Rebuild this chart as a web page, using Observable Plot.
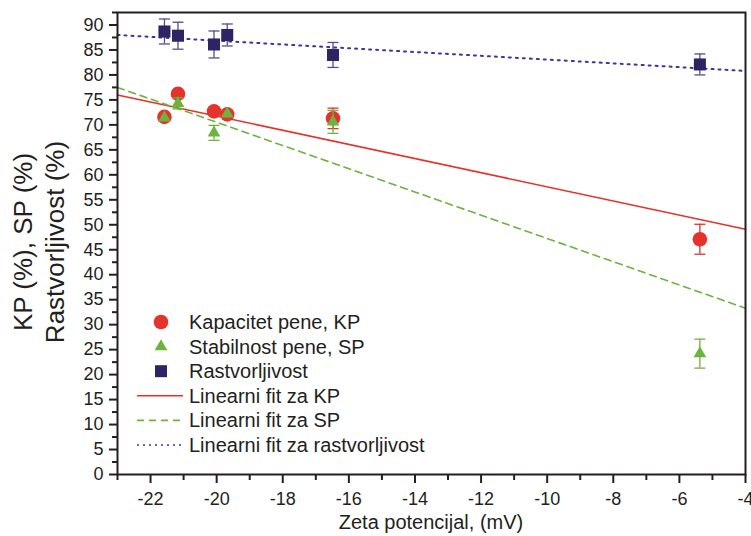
<!DOCTYPE html>
<html>
<head>
<meta charset="utf-8">
<script src="https://cdn.jsdelivr.net/npm/d3@7"></script>
<script src="https://cdn.jsdelivr.net/npm/@observablehq/plot@0.6"></script>
<style>
  html, body { margin: 0; padding: 0; background: #fff; }
  #chart { width: 751px; height: 536px; }
  svg { font-family: "Liberation Sans", Arial, sans-serif; }
</style>
</head>
<body>
<div id="chart"></div>
<script>
// Zeta potential of each sample (mV)
const zeta = [-21.58, -21.17, -20.08, -19.68, -16.48, -5.38];

// Foam capacity KP (%) and its error
const kp    = [71.6, 76.2, 72.7, 72.1, 71.3, 47.1];
const kpErr = [0, 0, 0, 0, 2.05, 3.0];

// Foam stability SP (%) and its error
const sp    = [71.4, 74.3, 68.4, 72.2, 70.6, 24.2];
const spErr = [0, 1.1, 1.5, 0, 2.3, 2.9];

// Solubility (%) and its error
const sol    = [88.7, 87.85, 86.1, 88.0, 84.0, 82.1];
const solErr = [2.5, 2.7, 2.7, 2.2, 2.5, 2.1];

// Linear fits, given by their end points
const fitX   = [-23, -4];
const kpFit  = [76.0, 49.1];
const spFit  = [77.5, 33.3];
const solFit = [88.0, 80.8];

// Axis ticks
const xTicks = [-22, -20, -18, -16, -14, -12, -10, -8, -6, -4];
const xMinor = [-23, -21, -19, -17, -15, -13, -11, -9, -7, -5];
const yTicks = [0, 5, 10, 15, 20, 25, 30, 35, 40, 45, 50, 55, 60, 65, 70, 75, 80, 85, 90];
const yMinor = [2.5, 7.5, 12.5, 17.5, 22.5, 27.5, 32.5, 37.5, 42.5, 47.5, 52.5, 57.5, 62.5, 67.5, 72.5, 77.5, 82.5, 87.5, 92.5];

const RED = "#e5322a", GREEN = "#6cb33f", NAVY = "#2d2466", DOTS = "#3d3597";

const rows = (vals, errs) => zeta.map((x, i) => ({x, y: vals[i], e: errs[i]}));
const kpRows = rows(kp, kpErr), spRows = rows(sp, spErr), solRows = rows(sol, solErr);
const fitRows = (vals) => fitX.map((x, i) => ({x, y: vals[i]}));

// horizontal cap drawn at the end of an error bar
const capSymbol = {
  draw(ctx, size) {
    const w = Math.sqrt(size / Math.PI);
    ctx.moveTo(-w, 0);
    ctx.lineTo(w, 0);
  }
};
const caps = (data) => data.filter(d => d.e > 0).flatMap(d => [{x: d.x, y: d.y + d.e}, {x: d.x, y: d.y - d.e}]);
const errorBars = (data, color) => [
  Plot.ruleX(data.filter(d => d.e > 0), {x: "x", y1: d => d.y - d.e, y2: d => d.y + d.e, stroke: color, strokeWidth: 1.3}),
  Plot.dot(caps(data), {x: "x", y: "y", symbol: capSymbol, r: 5.5, fill: "none", stroke: color, strokeWidth: 1.3})
];

const plot = Plot.plot({
  width: 751,
  height: 536,
  marginLeft: 117,
  marginRight: 6,
  marginTop: 12,
  marginBottom: 62,
  style: {fontSize: "18px", fontFamily: "'Liberation Sans', Arial, sans-serif", color: "#231f20", background: "#fff"},
  x: {domain: [-23, -4]},
  y: {domain: [0, 92.5]},
  marks: [
    Plot.line(fitRows(kpFit), {x: "x", y: "y", stroke: RED, strokeWidth: 1.6}),
    Plot.line(fitRows(spFit), {x: "x", y: "y", stroke: GREEN, strokeWidth: 1.6, strokeDasharray: "7,5"}),
    Plot.line(fitRows(solFit), {x: "x", y: "y", stroke: DOTS, strokeWidth: 2, strokeDasharray: "2,5"}),

    ...errorBars(kpRows, RED),
    Plot.dot(kpRows, {x: "x", y: "y", r: 7.3, fill: RED, stroke: "none"}),
    ...errorBars(spRows, GREEN),
    Plot.dot(spRows, {x: "x", y: "y", symbol: "triangle", r: 4.7, fill: GREEN, stroke: "none"}),
    ...errorBars(solRows, "#574c8c"),
    Plot.dot(solRows, {x: "x", y: "y", symbol: "square", r: 6.8, fill: NAVY, stroke: "none"}),

    Plot.axisX({ticks: xMinor, tickSize: 6, strokeWidth: 2, text: null, label: null}),
    Plot.axisX({ticks: xTicks, tickSize: 9, tickPadding: 9, strokeWidth: 2, tickFormat: d => String(d), label: null}),
    Plot.axisY({ticks: yMinor, tickSize: 5, strokeWidth: 2, text: null, label: null}),
    Plot.axisY({ticks: yTicks, tickSize: 8, tickPadding: 6, strokeWidth: 2, tickFormat: d => String(d), label: null}),
    Plot.frame({stroke: "#231f20", strokeWidth: 2})
  ]
});

const svg = d3.select(plot);
const font = "'Liberation Sans', Arial, sans-serif";

// axis titles
svg.append("text")
  .attr("x", 431).attr("y", 529)
  .attr("text-anchor", "middle")
  .attr("font-family", font).attr("font-size", 20).attr("fill", "#231f20")
  .text("Zeta potencijal, (mV)");

const yTitles = ["KP (%), SP (%)", "Rastvorljivost (%)"];
[32, 64].forEach((x, i) => {
  svg.append("text")
    .attr("transform", `translate(${x},242) rotate(-90)`)
    .attr("text-anchor", "middle")
    .attr("font-family", font).attr("font-size", 26).attr("fill", "#231f20")
    .text(yTitles[i]);
});

// legend
const legendItems = [
  {label: "Kapacitet pene, KP", kind: "circle", color: RED},
  {label: "Stabilnost pene, SP", kind: "triangle", color: GREEN},
  {label: "Rastvorljivost", kind: "square", color: NAVY},
  {label: "Linearni fit za KP", kind: "line", color: RED, dash: null, w: 1.6},
  {label: "Linearni fit za SP", kind: "line", color: GREEN, dash: "7,5", w: 1.6},
  {label: "Linearni fit za rastvorljivost", kind: "line", color: DOTS, dash: "2,4", w: 1.5}
];
const lg = svg.append("g").attr("text-anchor", "start");
legendItems.forEach((it, i) => {
  const y = 322 + i * 24.6;
  const cx = 161;
  if (it.kind === "circle") {
    lg.append("circle").attr("cx", cx).attr("cy", y).attr("r", 7.3).attr("fill", it.color);
  } else if (it.kind === "triangle") {
    lg.append("path").attr("transform", `translate(${cx},${y})`)
      .attr("d", d3.symbol(d3.symbolTriangle, Math.PI * 4.7 * 4.7)()).attr("fill", it.color);
  } else if (it.kind === "square") {
    lg.append("rect").attr("x", cx - 6).attr("y", y - 6).attr("width", 12).attr("height", 12).attr("fill", it.color);
  } else {
    lg.append("line").attr("x1", 137).attr("x2", 183).attr("y1", y).attr("y2", y)
      .attr("stroke", it.color).attr("stroke-width", it.w)
      .attr("stroke-dasharray", it.dash);
  }
  lg.append("text")
    .attr("x", 189).attr("y", y).attr("dy", "0.35em")
    .attr("text-anchor", "start")
    .attr("font-family", font).attr("font-size", 20).attr("fill", "#231f20")
    .text(it.label);
});

document.getElementById("chart").appendChild(plot);
</script>
</body>
</html>
